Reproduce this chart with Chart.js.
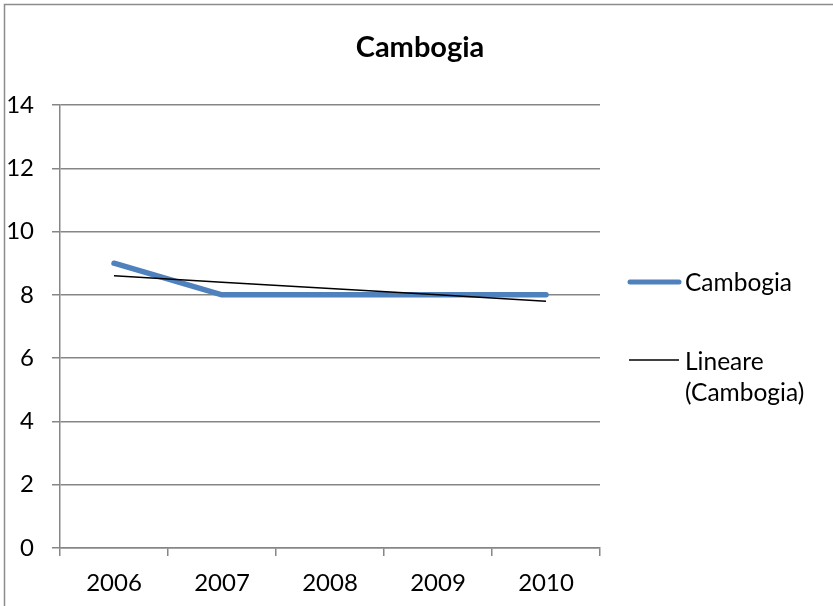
<!DOCTYPE html>
<html>
<head>
<meta charset="utf-8">
<style>
  html, body { margin: 0; padding: 0; background: #ffffff; }
  #wrap { width: 833px; height: 606px; position: relative; }
</style>
<script src="https://cdn.jsdelivr.net/npm/chart.js@4.4.1/dist/chart.umd.min.js"></script>
</head>
<body>
<div id="wrap"><canvas id="chart" width="833" height="606"></canvas></div>
<script>
// Chart content
const chartTitle = 'Cambogia';
const years = ['2006', '2007', '2008', '2009', '2010'];
const cambogiaValues = [9, 8, 8, 8, 8];
const trendValues = [8.6, 8.4, 8.2, 8.0, 7.8];
const seriesLabel = 'Cambogia';
const trendLabelLines = ['Lineare', '(Cambogia)'];
const yTicks = [0, 2, 4, 6, 8, 10, 12, 14];

const FONT = 'Lato, "Open Sans", "DejaVu Sans", sans-serif';
const GRID = '#868686';
const BLUE = '#4F81BD';

// Outer frame, title and the side legend are painted by this plugin
const decorations = {
  id: 'decorations',
  beforeDraw(chart) {
    const ctx = chart.ctx;
    ctx.save();
    ctx.fillStyle = '#ffffff';
    ctx.fillRect(0, 0, chart.width, chart.height);
    ctx.strokeStyle = '#8c8c8c';
    ctx.lineWidth = 1.5;
    ctx.strokeRect(4.5, 4.5, chart.width + 20, chart.height + 20);
    ctx.restore();
  },
  afterDraw(chart) {
    const ctx = chart.ctx;
    ctx.save();
    ctx.fillStyle = '#000000';
    ctx.textBaseline = 'alphabetic';
    ctx.textAlign = 'center';
    ctx.font = 'bold 29px ' + FONT;
    ctx.fillText(chartTitle, 420, 57);

    const sx0 = 628, sx1 = 681, tx = 685;
    // series entry
    ctx.strokeStyle = BLUE;
    ctx.lineWidth = 5;
    ctx.lineCap = 'round';
    ctx.beginPath();
    ctx.moveTo(sx0 + 2, 282);
    ctx.lineTo(sx1 - 2, 282);
    ctx.stroke();
    ctx.font = '24.5px ' + FONT;
    ctx.textAlign = 'left';
    ctx.textBaseline = 'middle';
    ctx.fillText(chart.data.datasets[0].label, tx, 283);

    // trend entry
    ctx.strokeStyle = '#000000';
    ctx.lineWidth = 1.5;
    ctx.lineCap = 'butt';
    ctx.beginPath();
    ctx.moveTo(sx0 + 1, 360);
    ctx.lineTo(sx1 - 2, 360);
    ctx.stroke();
    trendLabelLines.forEach((t, i) => ctx.fillText(t, tx, 362 + i * 31));
    ctx.restore();
  }
};

new Chart(document.getElementById('chart'), {
  type: 'line',
  data: {
    labels: years,
    datasets: [
      {
        label: seriesLabel,
        data: cambogiaValues,
        borderColor: BLUE,
        borderWidth: 5.5,
        borderCapStyle: 'round',
        borderJoinStyle: 'round',
        pointRadius: 0,
        tension: 0,
        order: 2
      },
      {
        label: trendLabelLines.join(' '),
        data: trendValues,
        borderColor: '#000000',
        borderWidth: 1.5,
        pointRadius: 0,
        tension: 0,
        order: 1
      }
    ]
  },
  options: {
    responsive: false,
    animation: false,
    layout: { padding: { top: 105, right: 233, bottom: 0, left: 0 } },
    plugins: {
      legend: { display: false },
      title: { display: false },
      tooltip: { enabled: false }
    },
    scales: {
      x: {
        type: 'category',
        offset: true,
        grid: {
          offset: true,
          drawOnChartArea: false,
          drawTicks: true,
          tickLength: 8,
          color: GRID,
          lineWidth: 1.5
        },
        border: { display: true, color: GRID, width: 1.5 },
        ticks: {
          color: '#000000',
          font: { family: FONT, size: 24 },
          padding: 13,
          maxRotation: 0,
          autoSkip: false
        },
        afterFit(scale) { scale.height = 58; }
      },
      y: {
        min: 0,
        max: 14,
        afterBuildTicks(scale) { scale.ticks = yTicks.map(v => ({ value: v })); },
        grid: {
          color: GRID,
          lineWidth: 1.5,
          drawTicks: true,
          tickLength: 8
        },
        border: { display: true, color: GRID, width: 1.5 },
        ticks: {
          color: '#000000',
          font: { family: FONT, size: 24 },
          padding: 18
        },
        afterFit(scale) { scale.width = 60; }
      }
    }
  },
  plugins: [decorations]
});
</script>
</body>
</html>
